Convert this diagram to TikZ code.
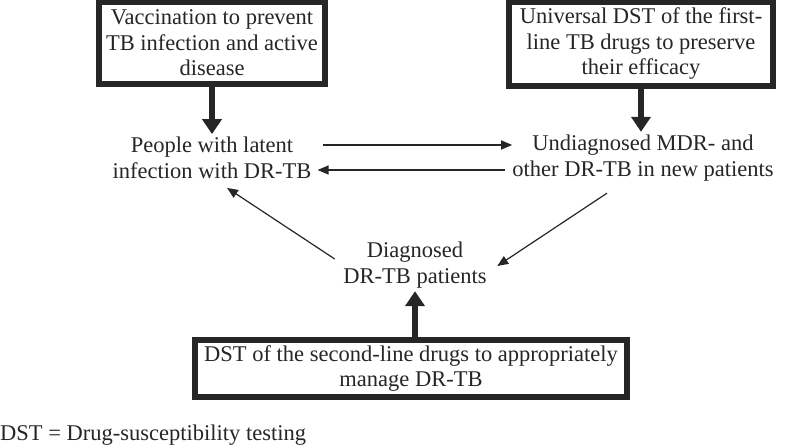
\documentclass[tikz,border=0pt]{standalone}
\usepackage{fontspec}
\setmainfont{Liberation Serif}
\usetikzlibrary{arrows.meta,positioning}
\definecolor{boxgray}{RGB}{38,38,38}

\begin{document}
\begin{tikzpicture}[x=1pt, y=-1pt,
  pbox/.style={rectangle, draw=boxgray, line width=6pt, fill=white,
               inner sep=0pt, align=center, text=boxgray,
               font=\fontsize{22.5}{25.5}\selectfont},
  grp/.style={inner sep=3pt, align=center, text=boxgray,
              font=\fontsize{22.5}{25.5}\selectfont},
  thickarr/.style={-{Triangle[length=15pt,width=19pt]}, line width=6pt, draw=boxgray},
  thinarr/.style={-{Triangle[length=11pt,width=9pt]}, line width=1.2pt, draw=boxgray}
]
\useasboundingbox (0,0) rectangle (787,445);

% Intervention boxes
\node[pbox, minimum width=226pt, minimum height=82pt] (vacc) at (212,43)
  {Vaccination to prevent\\TB infection and active\\disease};
\node[pbox, minimum width=264pt, minimum height=84pt] (univ) at (641,44)
  {Universal DST of the first-\\line TB drugs to preserve\\their efficacy};
\node[pbox, minimum width=432pt, minimum height=57pt] (secl) at (411,368.5)
  {DST of the second-line drugs to appropriately\\manage DR-TB};

% Patient groups
\node[grp] (latent) at (212,158) {People with latent\\infection with DR-TB};
\node[grp] (undiag) at (643,158) {Undiagnosed MDR- and\\other DR-TB in new patients};
\node[grp] (diag)   at (415,265) {Diagnosed\\DR-TB patients};

% Footnote
\node[grp, anchor=west, inner sep=0pt] (note) at (0,435) {DST = Drug-susceptibility testing};

% Thick arrows from the boxes
\draw[thickarr] (vacc.south) -- (latent.north);
\draw[thickarr] (univ.south) -- (univ.south |- undiag.north);
\draw[thickarr] (secl.north -| diag.south) -- (diag.south);

% Thin arrows between the groups
\draw[thinarr] ([shift={(8pt,13pt)}]latent.east) -- ([shift={(3pt,13pt)}]undiag.west);
\draw[thinarr] ([shift={(-4pt,-12pt)}]undiag.west) -- ([shift={(3pt,-12pt)}]latent.east);
\draw[thinarr] ([shift={(-36pt,-9pt)}]undiag.south) -- ([shift={(7.5pt,-1pt)}]diag.east);
\draw[thinarr] ([shift={(-5.5pt,6pt)}]diag.west) -- ([shift={(15pt,-6pt)}]latent.south);
\end{tikzpicture}
\end{document}
